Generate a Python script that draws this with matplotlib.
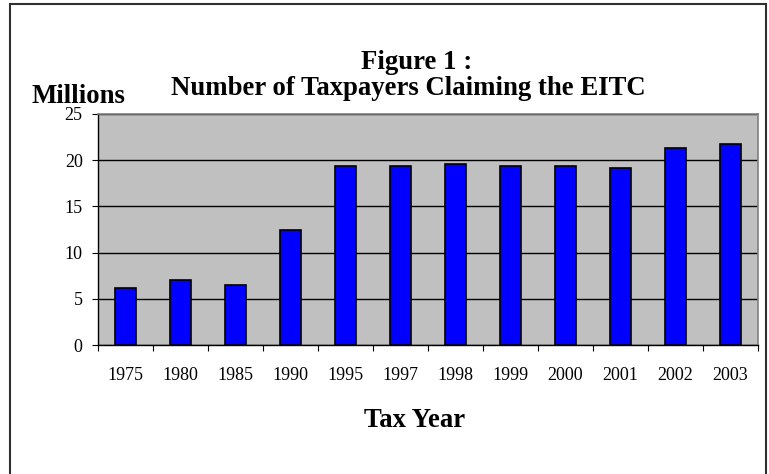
import numpy as np
import matplotlib.pyplot as plt
from matplotlib.patches import Rectangle

years = ['1975', '1980', '1985', '1990', '1995', '1997', '1998', '1999',
         '2000', '2001', '2002', '2003']
claimants = [6.2, 7.0, 6.5, 12.5, 19.4, 19.4, 19.6, 19.4, 19.4, 19.2, 21.3, 21.8]

plt.rcParams['font.family'] = ['Liberation Serif', 'DejaVu Serif']

W, H = 769, 474
fig = plt.figure(figsize=(W / 100, H / 100), dpi=100)
ax = fig.add_axes([98 / W, 1 - 345 / H, 660 / W, 231 / H])
ax.set_facecolor('#C0C0C0')

x = np.arange(len(years))
ax.bar(x, claimants, width=0.37, color='#0000FF', edgecolor='black',
       linewidth=1.2, zorder=3)

ax.set_xlim(-0.5, len(years) - 0.5)
ax.set_ylim(0, 25)
ax.set_yticks([0, 5, 10, 15, 20, 25])
ax.yaxis.grid(True, color='black', linewidth=1.0, zorder=1)
ax.set_axisbelow(True)

# ticks between categories, labels centred under the bars
ax.set_xticks(np.arange(-0.5, len(years)))
ax.set_xticklabels([])
ax.set_xticks(x, minor=True)
ax.set_xticklabels(years, minor=True)
ax.tick_params(axis='x', which='minor', length=0, pad=16, labelsize=13)
ax.tick_params(axis='x', which='major', length=4, direction='out', color='black')
ax.tick_params(axis='y', length=4, direction='out', labelsize=13, pad=7)

for s in ['top', 'right']:
    ax.spines[s].set_color('#808080')
    ax.spines[s].set_linewidth(1.2)
for s in ['left', 'bottom']:
    ax.spines[s].set_color('black')
    ax.spines[s].set_linewidth(1.0)

fs = 19.3
fig.text(417 / W, 1 - 69 / H, 'Figure 1 :', ha='center', va='baseline',
         fontsize=fs, fontweight='bold')
fig.text(408 / W, 1 - 95 / H, 'Number of Taxpayers Claiming the EITC',
         ha='center', va='baseline', fontsize=fs, fontweight='bold')
fig.text(32 / W, 1 - 103 / H, 'Millions', ha='left', va='baseline',
         fontsize=fs, fontweight='bold')
fig.text(415 / W, 1 - 427 / H, 'Tax Year', ha='center', va='baseline',
         fontsize=fs, fontweight='bold')

# outer chart border (bottom edge falls outside the picture)
fig.patches.append(Rectangle((9.5 / W, -0.05), 756 / W, 1.05 - 4 / H,
                             transform=fig.transFigure, fill=False,
                             edgecolor='#303030', linewidth=1.5))

fig.savefig('out.png', dpi=100)
